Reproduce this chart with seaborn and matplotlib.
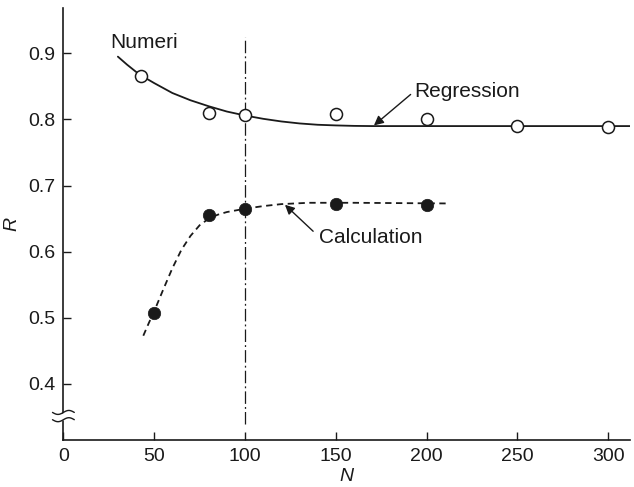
import numpy as np
import pandas as pd
import matplotlib
matplotlib.use("Agg")
import matplotlib.pyplot as plt
import seaborn as sns

# Data
numeri_N = [43, 80, 100, 150, 200, 250, 300]
numeri_R = [0.866, 0.810, 0.806, 0.809, 0.801, 0.790, 0.789]
calc_N = [50, 80, 100, 150, 200]
calc_R = [0.507, 0.655, 0.664, 0.672, 0.671]

reg_curve_N = [30, 35, 40, 45, 50, 60, 70, 80, 90, 100, 110, 120, 130, 140, 150, 160, 170, 313]
reg_curve_R = [0.895, 0.883, 0.872, 0.863, 0.855, 0.840, 0.829, 0.820, 0.812, 0.806, 0.801,
               0.797, 0.794, 0.792, 0.791, 0.7903, 0.790, 0.790]
calc_curve_N = [44, 47, 50, 55, 60, 65, 70, 75, 80, 85, 90, 100, 110, 120, 135, 160, 212]
calc_curve_R = [0.473, 0.492, 0.510, 0.543, 0.575, 0.603, 0.624, 0.640, 0.650, 0.656,
                0.660, 0.665, 0.669, 0.672, 0.674, 0.674, 0.673]

x_ticks = [0, 50, 100, 150, 200, 250, 300]
y_ticks = [0.4, 0.5, 0.6, 0.7, 0.8, 0.9]
y_tick_labels = ["0.4", "0.5", "0.6", "0.7", "0.8", "0.9"]

sns.set_theme(style="ticks")
plt.rcParams["font.family"] = ["Liberation Sans", "DejaVu Sans"]

ink = "#1a1a1a"
fs = 14
fa = 15
fig = plt.figure(figsize=(6.34, 4.87), dpi=100)
ax = fig.add_axes([0.1, 0.0965, 0.8937, 0.887])

reg_df = pd.DataFrame({"N": reg_curve_N, "R": reg_curve_R})
calc_df = pd.DataFrame({"N": calc_curve_N, "R": calc_curve_R})
sns.lineplot(data=reg_df, x="N", y="R", ax=ax, color=ink, lw=1.3, sort=False)
sns.lineplot(data=calc_df, x="N", y="R", ax=ax, color=ink, lw=1.3, sort=False)
ax.lines[-1].set_dashes((3.5, 2.5))

ylo, yhi = 0.3153, 0.9685
ax.axvline(100, ymin=(0.34 - ylo) / (yhi - ylo), ymax=(0.924 - ylo) / (yhi - ylo),
           color=ink, lw=0.9, dashes=(10, 2.5, 1.5, 2.5))

sns.scatterplot(x=numeri_N, y=numeri_R, ax=ax, s=75, facecolor="white",
                edgecolor=ink, linewidth=1.1, zorder=5)
sns.scatterplot(x=calc_N, y=calc_R, ax=ax, s=80, color=ink,
                edgecolor=ink, linewidth=0.5, zorder=5)

ax.set_xlim(0, 312)
ax.set_ylim(ylo, yhi)
ax.set_xticks(x_ticks)
ax.set_yticks(y_ticks)
ax.set_yticklabels(y_tick_labels)
sns.despine(ax=ax)
for s in ["left", "bottom"]:
    ax.spines[s].set_color(ink)
    ax.spines[s].set_linewidth(1.2)
ax.tick_params(direction="in", length=6, width=1.0, color=ink, labelsize=fs,
               labelcolor=ink)
ax.tick_params(axis="y", pad=6)
ax.tick_params(axis="x", pad=6)

ax.set_xlabel("N", fontsize=fs, style="italic", color=ink, labelpad=2)
ax.set_ylabel("R", fontsize=fs, style="italic", color=ink, labelpad=5)

# annotations
ax.text(26, 0.917, "Numeri", fontsize=fa, color=ink, va="center", ha="left")
ax.annotate("Regression", xy=(171, 0.791), xytext=(193, 0.842), fontsize=fa,
            color=ink, va="center", ha="left",
            arrowprops=dict(arrowstyle="-|>", color=ink, lw=1.0, mutation_scale=14,
                            shrinkA=0, shrinkB=0, relpos=(0, 0.5)))
ax.annotate("Calculation", xy=(122, 0.671), xytext=(141, 0.622), fontsize=fa,
            color=ink, va="center", ha="left",
            arrowprops=dict(arrowstyle="-|>", color=ink, lw=1.0, mutation_scale=14,
                            shrinkA=3, shrinkB=0, relpos=(0, 0.5)))

# axis break mark on the y axis
t = np.linspace(-1, 1, 40)
bx = t * 6
wave = 0.003 * np.sin(t * np.pi)
ax.fill_between(bx, 0.346 + wave, 0.357 + wave, color="white", zorder=6,
                clip_on=False, lw=0)
for yc in (0.346, 0.357):
    ax.plot(bx, yc + wave, color=ink, lw=1.0, zorder=7, clip_on=False)

fig.savefig("out.png", dpi=100)
